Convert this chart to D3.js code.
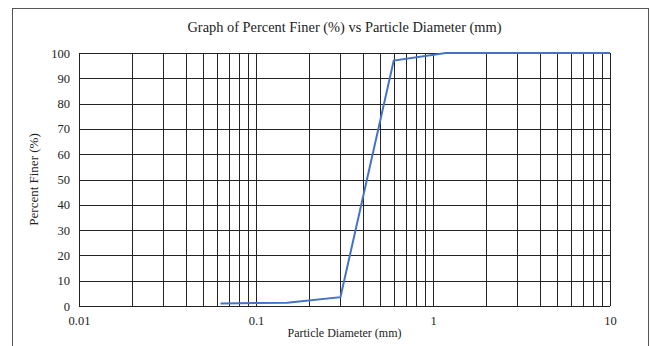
<!DOCTYPE html>
<html>
<head>
<meta charset="utf-8">
<script src="https://cdn.jsdelivr.net/npm/d3@7"></script>
<style>
  body { margin: 0; background: #fff; }
  text { font-family: "Liberation Serif", "Times New Roman", serif; fill: #222; }
</style>
</head>
<body>
<div id="chart"></div>
<script>
// sieve data
const diameters = [0.063, 0.15, 0.3, 0.6, 1.18, 2.36, 4.75, 10];
const percentFiner = [1, 1.3, 3.5, 97, 100, 100, 100, 100];
const xTickLabels = [0.01, 0.1, 1, 10];
const yTickLabels = [0, 10, 20, 30, 40, 50, 60, 70, 80, 90, 100];

const width = 650, height = 346;
const margin = { left: 79, right: 40, top: 53, bottom: 40 };

const svg = d3.select("#chart").append("svg")
  .attr("width", width).attr("height", height);

// outer frame
svg.append("rect")
  .attr("x", 12.5).attr("y", 8.5)
  .attr("width", 636).attr("height", 360)
  .attr("fill", "none").attr("stroke", "#555").attr("stroke-width", 1);

const x = d3.scaleLog().domain([0.01, 10]).range([margin.left, width - margin.right]);
const y = d3.scaleLinear().domain([0, 100]).range([height - margin.bottom, margin.top]);

// vertical grid (every minor log value)
const minor = [];
for (let dec = 0.01; dec < 10; dec *= 10) {
  for (let k = 1; k <= 10; k++) minor.push(+(dec * k).toPrecision(3));
}
svg.append("g").selectAll("line")
  .data(minor).enter().append("line")
  .attr("x1", d => Math.round(x(d)) + 0.5).attr("x2", d => Math.round(x(d)) + 0.5)
  .attr("y1", y(100)).attr("y2", y(0))
  .attr("stroke", "#222").attr("stroke-width", 1);

// horizontal grid
svg.append("g").selectAll("line")
  .data(yTickLabels).enter().append("line")
  .attr("x1", x(0.01)).attr("x2", x(10))
  .attr("y1", d => Math.round(y(d)) + 0.5).attr("y2", d => Math.round(y(d)) + 0.5)
  .attr("stroke", "#222").attr("stroke-width", 1);

// axes (labels only)
const yAxis = d3.axisLeft(y).tickValues(yTickLabels).tickSize(0).tickPadding(9);
svg.append("g").attr("class", "yAxis")
  .attr("transform", `translate(${margin.left},0)`)
  .call(yAxis);

const xAxis = d3.axisBottom(x).tickValues(xTickLabels).tickSize(0).tickPadding(10)
  .tickFormat(d => String(d));
svg.append("g").attr("class", "xAxis")
  .attr("transform", `translate(0,${height - margin.bottom})`)
  .call(xAxis);

svg.selectAll(".yAxis path, .xAxis path").remove();
svg.selectAll(".yAxis text, .xAxis text")
  .style("font-family", "'Liberation Serif', serif")
  .style("font-size", "12.5px")
  .attr("fill", "#222");

// data line
const pts = diameters.map((d, i) => [d, percentFiner[i]]);
svg.append("path")
  .datum(pts)
  .attr("fill", "none")
  .attr("stroke", "#4472C4")
  .attr("stroke-width", 2)
  .attr("d", d3.line().x(d => x(d[0])).y(d => y(d[1])));

// titles
svg.append("text")
  .text("Graph of Percent Finer (%) vs Particle Diameter (mm)")
  .attr("x", (x(0.01) + x(10)) / 2).attr("y", 32)
  .attr("text-anchor", "middle")
  .style("font-size", "14.4px");

svg.append("text")
  .text("Particle Diameter (mm)")
  .attr("x", (x(0.01) + x(10)) / 2).attr("y", 337)
  .attr("text-anchor", "middle")
  .style("font-size", "12px");

svg.append("text")
  .text("Percent Finer (%)")
  .attr("transform", `translate(38,${(y(0) + y(100)) / 2}) rotate(-90)`)
  .attr("text-anchor", "middle")
  .style("font-size", "13px");
</script>
</body>
</html>
